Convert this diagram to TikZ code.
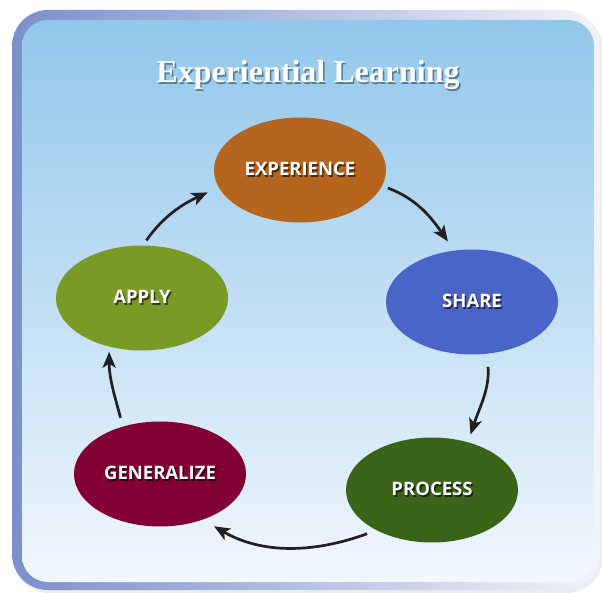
\documentclass[tikz,border=0pt]{standalone}
\usepackage{fontspec}
\setmainfont{Liberation Serif}
\newfontfamily\labelfont{Open Sans}
\usetikzlibrary{arrows.meta,shapes.geometric}
\definecolor{expcol}{HTML}{B5651D}
\definecolor{sharecol}{HTML}{4A65C8}
\definecolor{proccol}{HTML}{3A6418}
\definecolor{gencol}{HTML}{820034}
\definecolor{applycol}{HTML}{7A9A26}
\definecolor{frameL}{HTML}{7B8FCA}
\definecolor{frameR}{HTML}{F2F3FA}
\definecolor{panelT}{HTML}{92C7EB}
\definecolor{panelB}{HTML}{F1F7FD}
\definecolor{arrowcol}{HTML}{231F20}
\definecolor{titleshadow}{HTML}{5A7890}
\newcommand\shtext[2]{\rlap{\kern1.5pt\raisebox{-1.5pt}{\color{#1}#2}}#2}
\tikzset{
  stage/.style={ellipse, minimum width=172pt, minimum height=105pt, inner sep=0pt, draw=none,
    text=white, font=\labelfont\bfseries\fontsize{18.5}{21}\selectfont},
  flow/.style={draw=arrowcol, line width=2.7pt, -{Stealth[length=16pt,width=13pt,inset=4pt]}},
}
\begin{document}
\begin{tikzpicture}[x=1pt,y=1pt]
\useasboundingbox (0,0) rectangle (602,592);
% frame shadow
\fill[black, opacity=0.07, rounded corners=36pt] (13,-1) rectangle (603,579);
% outer frame
\shade[left color=frameL, right color=frameR, rounded corners=36pt] (12,2) rectangle (600,582);
% inner panel
\shade[top color=panelT, bottom color=panelB, rounded corners=26pt] (22,10) rectangle (594,572);
% title
\node (title) [text=white, font=\fontsize{32}{36}\selectfont\bfseries] at (308,516)
  {\shtext{titleshadow}{Experiential Learning}};
% stages
\node[stage, fill=expcol]   (exp)   at (300,422) {\shtext{black!60!expcol}{EXPERIENCE}};
\node[stage, fill=sharecol] (share) at (472,290) {\shtext{black!60!sharecol}{SHARE}};
\node[stage, fill=proccol]  (proc)  at (432,102) {\shtext{black!60!proccol}{PROCESS}};
\node[stage, fill=gencol]   (gen)   at (160,118) {\shtext{black!60!gencol}{GENERALIZE}};
\node[stage, fill=applycol] (apply) at (142,294) {\shtext{black!60!applycol}{APPLY}};
% arrows
\draw[flow, shorten <=6pt, shorten >=11pt] (exp.-11) to[out=-20, in=125] (share.109);
\draw[flow, shorten <=13pt, shorten >=8pt] (share.-74) to[out=-85, in=72] (proc.53);
\draw[flow, shorten <=10pt, shorten >=13pt] (proc.-144) to[out=-160, in=-30] (gen.-47);
\draw[flow, shorten <=9pt, shorten >=5pt] (gen.128) to[out=105, in=-90] (apply.-124);
\draw[flow, shorten <=6pt, shorten >=12pt] (apply.89) to[out=55, in=-155] (exp.-168);
\end{tikzpicture}
\end{document}
